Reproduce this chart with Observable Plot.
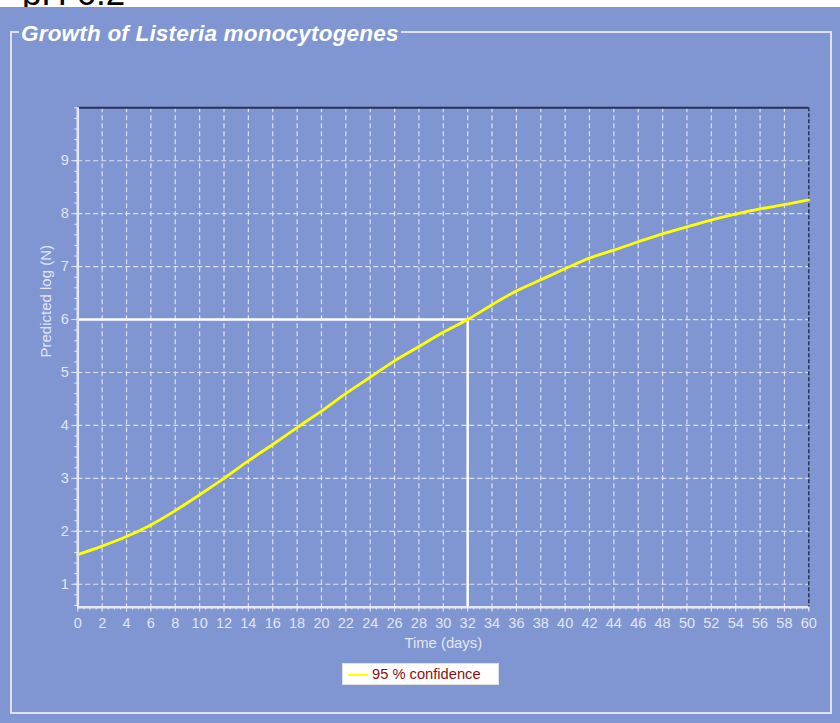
<!DOCTYPE html>
<html>
<head>
<meta charset="utf-8">
<script src="https://cdn.jsdelivr.net/npm/d3@7"></script>
<script src="https://cdn.jsdelivr.net/npm/@observablehq/plot@0.6"></script>
<style>
  html, body { margin: 0; padding: 0; background: #ffffff; }
  #page { position: relative; width: 840px; height: 723px; overflow: hidden; background: #ffffff; font-family: "Liberation Sans", Arial, sans-serif; }
  #blue { position: absolute; left: 0; top: 7px; width: 840px; height: 716px; background: #8096d2; }
  #box { position: absolute; left: 10px; top: 31px; width: 822px; height: 683px; border: 2px solid #dfe2ec; box-sizing: border-box; }
  #title { position: absolute; left: 19px; top: 21px; padding: 0 2px; background: #8096d2; color: #ffffff; font-size: 22.5px; font-weight: bold; font-style: italic; line-height: 26px; white-space: nowrap; letter-spacing: 0.2px; }
  #pre { position: absolute; left: 22px; top: -25px; color: #000; font-size: 35px; line-height: 35px; white-space: nowrap; }
  #chart { position: absolute; left: 0; top: 0; }
  #legend { position: absolute; left: 342px; top: 663px; width: 157px; height: 22px; background: #ffffff; border: 1px solid #e0e0e0; box-sizing: border-box; font-size: 14.7px; color: #8b0f0f; line-height: 20px; white-space: nowrap; }
  #legend .sw { position: absolute; left: 5px; top: 10px; width: 20px; height: 2px; background: #ffff00; }
  #legend .tx { position: absolute; left: 29px; top: 0; }
</style>
</head>
<body>
<div id="page">
  <div id="pre">pH 6.2</div>
  <div id="blue"></div>
  <div id="box"></div>
  <div id="title">Growth of Listeria monocytogenes</div>
  <div id="chart"></div>
  <div id="legend"><div class="sw"></div><div class="tx">95 % confidence</div></div>
</div>
<script>
// Data
const days = [0, 2, 4, 6, 8, 10, 12, 14, 16, 18, 20, 22, 24, 26, 28, 30, 32, 34, 36, 38, 40, 42, 44, 46, 48, 50, 52, 54, 56, 58, 60];
const logN = [1.56, 1.72, 1.90, 2.12, 2.39, 2.69, 3.00, 3.33, 3.64, 3.96, 4.27, 4.60, 4.91, 5.22, 5.49, 5.76, 6.00, 6.28, 6.54, 6.75, 6.96, 7.16, 7.31, 7.47, 7.62, 7.75, 7.88, 7.99, 8.09, 8.17, 8.26];
const targetDay = 32;
const targetLog = 6;
const xTicks = d3.range(0, 61, 2);
const xMinor = d3.range(0, 60.01, 0.5);
const yTicks = [1, 2, 3, 4, 5, 6, 7, 8, 9];
const yMinor = d3.range(0.6, 10.001, 0.2).map(v => Math.round(v * 10) / 10);
const xGrid = d3.range(2, 60, 2);
const xLabel = "Time (days)";
const yLabel = "Predicted log (N)";

const data = days.map((d, i) => ({day: d, v: logN[i]}));
const yMin = 0.566, yMax = 10;
const gridColor = "#dde1ec";
const axisColor = "#e6e8f0";
const textColor = "#e2e5ee";

const chart = Plot.plot({
  width: 840,
  height: 660,
  marginLeft: 77.3,
  marginRight: 31.7,
  marginTop: 107.3,
  marginBottom: 53.3,
  style: {background: "transparent", fontFamily: "'Liberation Sans', Arial, sans-serif", overflow: "visible"},
  x: {domain: [0, 60], axis: null},
  y: {domain: [yMin, yMax], axis: null},
  marks: [
    Plot.ruleX(xGrid, {stroke: gridColor, strokeWidth: 1.2, strokeDasharray: "5,3"}),
    Plot.ruleY(yTicks, {stroke: gridColor, strokeWidth: 1.2, strokeDasharray: "5,3"}),
    Plot.ruleY([yMax], {stroke: "#2b3150", strokeWidth: 2}),
    Plot.ruleX([60], {stroke: "#2b3150", strokeWidth: 1.5, strokeDasharray: "4,2"}),
    Plot.ruleY([targetLog], {x1: 0, x2: targetDay, stroke: "#ffffff", strokeWidth: 2.5}),
    Plot.ruleX([targetDay], {y1: yMin, y2: targetLog, stroke: "#ffffff", strokeWidth: 2.5}),
    Plot.line(data, {x: "day", y: "v", stroke: "#ffff00", strokeWidth: 2.8, curve: "monotone-x"}),
    Plot.ruleX([0], {stroke: axisColor, strokeWidth: 2.5}),
    Plot.ruleY([yMin], {stroke: axisColor, strokeWidth: 2.5}),
    Plot.axisX(xMinor, {anchor: "bottom", tickSize: 3, tickFormat: () => "", stroke: axisColor, label: null}),
    Plot.axisX(xTicks, {anchor: "bottom", tickSize: 5, tickPadding: 6, fontSize: 14.5, color: textColor, stroke: axisColor, label: null, tickFormat: d3.format("d")}),
    Plot.axisY(yMinor, {anchor: "left", tickSize: 3, tickFormat: () => "", stroke: axisColor, label: null}),
    Plot.axisY(yTicks, {anchor: "left", tickSize: 6, tickPadding: 3, fontSize: 14.5, color: textColor, stroke: axisColor, label: null, tickFormat: d3.format("d")}),
    Plot.text([xLabel], {frameAnchor: "bottom", dy: 41, fontSize: 14.8, fill: textColor, text: d => d}),
    Plot.text([yLabel], {frameAnchor: "left", dx: -32, rotate: -90, fontSize: 15, fill: textColor, text: d => d})
  ]
});
document.getElementById("chart").appendChild(chart);
</script>
</body>
</html>
